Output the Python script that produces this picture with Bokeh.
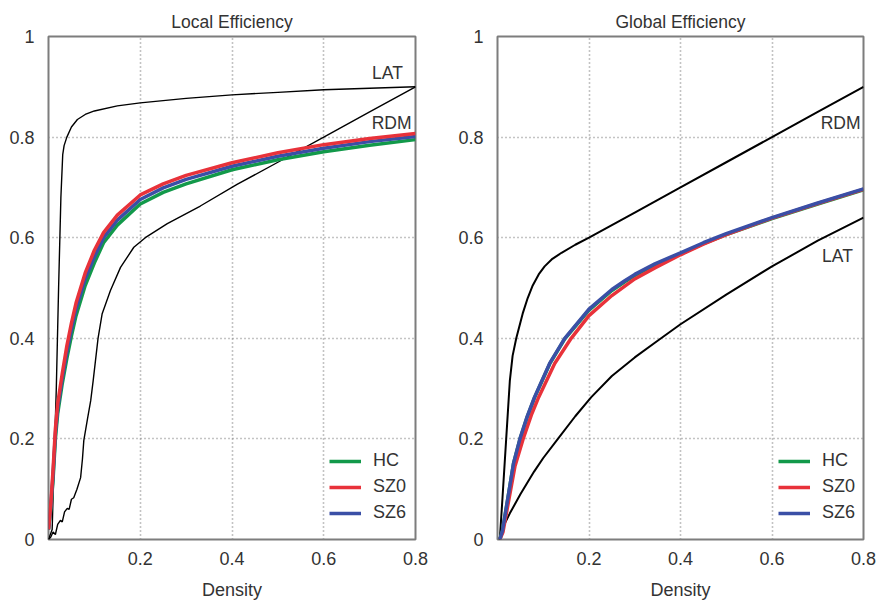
from bokeh.plotting import figure
from bokeh.layouts import row
from bokeh.models import Range1d, FixedTicker, CustomJSTickFormatter, Legend, LegendItem, Label
from bokeh.embed import file_html
from bokeh.resources import INLINE

# ---------------- data: Local Efficiency ----------------
loc_lat_x = [0, 0.008, 0.012, 0.017, 0.022, 0.027, 0.031, 0.034, 0.04, 0.05, 0.063, 0.08, 0.1, 0.15, 0.2, 0.3, 0.4, 0.5, 0.6, 0.7, 0.8]
loc_lat_y = [0, 0.02, 0.15, 0.30, 0.50, 0.68, 0.765, 0.783, 0.80, 0.82, 0.835, 0.845, 0.852, 0.862, 0.868, 0.877, 0.884, 0.889, 0.894, 0.897, 0.90]

loc_rdm_x = [0, 0.005, 0.01, 0.015, 0.02, 0.026, 0.03, 0.035, 0.041, 0.045, 0.05, 0.055, 0.062, 0.07, 0.074, 0.077,
             0.085, 0.092, 0.0974, 0.108, 0.117, 0.135, 0.157, 0.186, 0.211, 0.259, 0.331, 0.411, 0.5, 0.6, 0.7, 0.8]
loc_rdm_y = [0, 0.005, 0.015, 0.01, 0.03, 0.038, 0.035, 0.055, 0.062, 0.06, 0.08, 0.083, 0.10, 0.123, 0.16, 0.197,
             0.24, 0.276, 0.316, 0.40, 0.449, 0.495, 0.541, 0.581, 0.60, 0.628, 0.663, 0.706, 0.75, 0.80, 0.85, 0.90]

loc_x = [0, 0.005, 0.01, 0.015, 0.02, 0.03, 0.04, 0.05, 0.06, 0.08, 0.1, 0.12, 0.15, 0.2, 0.25, 0.3, 0.4, 0.5, 0.6, 0.7, 0.8]
loc_hc = [0.02, 0.06, 0.12, 0.20, 0.25, 0.31, 0.36, 0.405, 0.445, 0.505, 0.55, 0.59, 0.625, 0.667, 0.69, 0.707, 0.735, 0.755, 0.771, 0.784, 0.795]
loc_sz0 = [0.02, 0.07, 0.14, 0.22, 0.27, 0.33, 0.385, 0.43, 0.47, 0.53, 0.575, 0.61, 0.645, 0.685, 0.707, 0.724, 0.749, 0.769, 0.785, 0.797, 0.807]
loc_sz6 = [0.02, 0.065, 0.13, 0.21, 0.26, 0.32, 0.372, 0.418, 0.458, 0.518, 0.562, 0.60, 0.635, 0.676, 0.699, 0.716, 0.742, 0.762, 0.778, 0.791, 0.801]

# ---------------- data: Global Efficiency ----------------
glo_rdm_x = [0.005, 0.011, 0.019, 0.027, 0.033, 0.041, 0.055, 0.066, 0.077, 0.09, 0.103, 0.12, 0.14, 0.17, 0.2, 0.3, 0.4, 0.5, 0.6, 0.7, 0.8]
glo_rdm_y = [0, 0.084, 0.20, 0.316, 0.365, 0.40, 0.449, 0.48, 0.505, 0.527, 0.543, 0.558, 0.57, 0.586, 0.60, 0.65, 0.70, 0.75, 0.80, 0.85, 0.90]

glo_lat_x = [0.004, 0.012, 0.027, 0.05, 0.08, 0.1, 0.132, 0.17, 0.205, 0.25, 0.3, 0.35, 0.4, 0.5, 0.6, 0.7, 0.8]
glo_lat_y = [0, 0.025, 0.052, 0.09, 0.135, 0.162, 0.20, 0.245, 0.283, 0.325, 0.362, 0.395, 0.428, 0.487, 0.543, 0.594, 0.64]

glo_hc_x = [0.005, 0.011, 0.023, 0.035, 0.049, 0.065, 0.081, 0.114, 0.147, 0.2, 0.25, 0.279, 0.3, 0.344, 0.4, 0.45, 0.5, 0.6, 0.7, 0.8]
glo_hc_y = [0, 0.018, 0.084, 0.151, 0.199, 0.244, 0.282, 0.349, 0.399, 0.456, 0.495, 0.513, 0.525, 0.546, 0.568, 0.588, 0.606, 0.638, 0.667, 0.695]

glo_sz0_x = [0.005, 0.012, 0.025, 0.038, 0.056, 0.075, 0.09, 0.125, 0.161, 0.2, 0.25, 0.3, 0.344, 0.4, 0.45, 0.5, 0.6, 0.7, 0.8]
glo_sz0_y = [0, 0.015, 0.08, 0.145, 0.20, 0.25, 0.283, 0.35, 0.40, 0.445, 0.485, 0.518, 0.54, 0.566, 0.587, 0.606, 0.639, 0.668, 0.696]

glo_sz6_x = [0.005, 0.011, 0.023, 0.035, 0.049, 0.065, 0.081, 0.114, 0.147, 0.2, 0.25, 0.279, 0.3, 0.344, 0.4, 0.45, 0.5, 0.6, 0.7, 0.8]
glo_sz6_y = [0, 0.018, 0.084, 0.151, 0.20, 0.245, 0.283, 0.35, 0.40, 0.458, 0.497, 0.515, 0.527, 0.548, 0.57, 0.59, 0.608, 0.64, 0.669, 0.697]

x_ticks = [0.2, 0.4, 0.6, 0.8]
y_ticks = [0, 0.2, 0.4, 0.6, 0.8, 1.0]
groups = ["HC", "SZ0", "SZ6"]
colors = {"HC": "#12994a", "SZ0": "#e8323a", "SZ6": "#3a4fa6"}

FONT = "Liberation Sans"
TXT = "#333333"


def make_fig(title, left_border, right_border, width):
    p = figure(width=width, height=602, output_backend="svg", toolbar_location=None,
               x_range=Range1d(0, 0.8), y_range=Range1d(0, 1),
               min_border_left=left_border, min_border_right=right_border,
               min_border_top=36, min_border_bottom=63)
    p.title.text = title
    p.title.align = "center"
    p.title.text_font = FONT
    p.title.text_font_size = "17.5px"
    p.title.text_font_style = "normal"
    p.title.text_color = TXT
    p.title.standoff = 9
    p.background_fill_color = "white"
    p.border_fill_color = "white"
    p.outline_line_color = "#7d7d7d"
    p.outline_line_width = 2
    p.xaxis.ticker = FixedTicker(ticks=x_ticks)
    p.yaxis.ticker = FixedTicker(ticks=y_ticks)
    fmt = CustomJSTickFormatter(code="return tick.toFixed(1).replace(/\\.0$/, '');")
    p.xaxis.formatter = fmt
    p.yaxis.formatter = fmt
    for ax in (p.xaxis, p.yaxis):
        ax.axis_line_color = None
        ax.major_tick_line_color = None
        ax.minor_tick_line_color = None
        ax.major_tick_in = 0
        ax.major_tick_out = 0
        ax.major_label_text_font = FONT
        ax.major_label_text_font_size = "18px"
        ax.major_label_text_color = TXT
    p.yaxis.major_label_standoff = 14
    p.xaxis.major_label_standoff = 12
    p.xaxis.axis_label = "Density"
    p.xaxis.axis_label_text_font = FONT
    p.xaxis.axis_label_text_font_size = "18px"
    p.xaxis.axis_label_text_font_style = "normal"
    p.xaxis.axis_label_text_color = TXT
    p.xaxis.axis_label_standoff = 12
    for g in (p.xgrid, p.ygrid):
        g.grid_line_color = "#888888"
        g.grid_line_dash = "1 3"
        g.grid_line_width = 1.6
    return p


def add_label(p, x, y, text):
    p.add_layout(Label(x=x, y=y, text=text, text_font=FONT, text_font_size="17.5px",
                       text_color=TXT, text_align="center", text_baseline="middle"))


def add_legend(p, renderers):
    items = [LegendItem(label=g, renderers=[r]) for g, r in zip(groups, renderers)]
    leg = Legend(items=items, location=(281, 16), padding=0, margin=0, spacing=5,
                 glyph_width=32, glyph_height=20, label_standoff=12,
                 label_text_font=FONT, label_text_font_size="18px", label_text_color=TXT,
                 background_fill_alpha=0, border_line_color=None)
    p.add_layout(leg)


# ---------------- left plot ----------------
p1 = make_fig("Local Efficiency", 48, 25, 440)
p1.line(loc_lat_x, loc_lat_y, line_color="black", line_width=1.4)
p1.line(loc_rdm_x, loc_rdm_y, line_color="black", line_width=1.4)
r_hc = p1.line(loc_x, loc_hc, line_color=colors["HC"], line_width=3.5)
r_sz6 = p1.line(loc_x, loc_sz6, line_color=colors["SZ6"], line_width=3.5)
r_sz0 = p1.line(loc_x, loc_sz0, line_color=colors["SZ0"], line_width=3.5)
add_label(p1, 0.739, 0.928, "LAT")
add_label(p1, 0.748, 0.829, "RDM")
add_legend(p1, [r_hc, r_sz0, r_sz6])

# ---------------- right plot ----------------
p2 = make_fig("Global Efficiency", 57, 16, 439)
p2.line(glo_rdm_x, glo_rdm_y, line_color="black", line_width=2)
p2.line(glo_lat_x, glo_lat_y, line_color="black", line_width=2)
g_hc = p2.line(glo_hc_x, glo_hc_y, line_color=colors["HC"], line_width=3.5)
g_sz0 = p2.line(glo_sz0_x, glo_sz0_y, line_color=colors["SZ0"], line_width=3.5)
g_sz6 = p2.line(glo_sz6_x, glo_sz6_y, line_color=colors["SZ6"], line_width=3.5)
add_label(p2, 0.75, 0.829, "RDM")
add_label(p2, 0.743, 0.563, "LAT")
add_legend(p2, [g_hc, g_sz0, g_sz6])

layout = row(p1, p2)
open("out.html", "w").write(file_html(layout, INLINE))
